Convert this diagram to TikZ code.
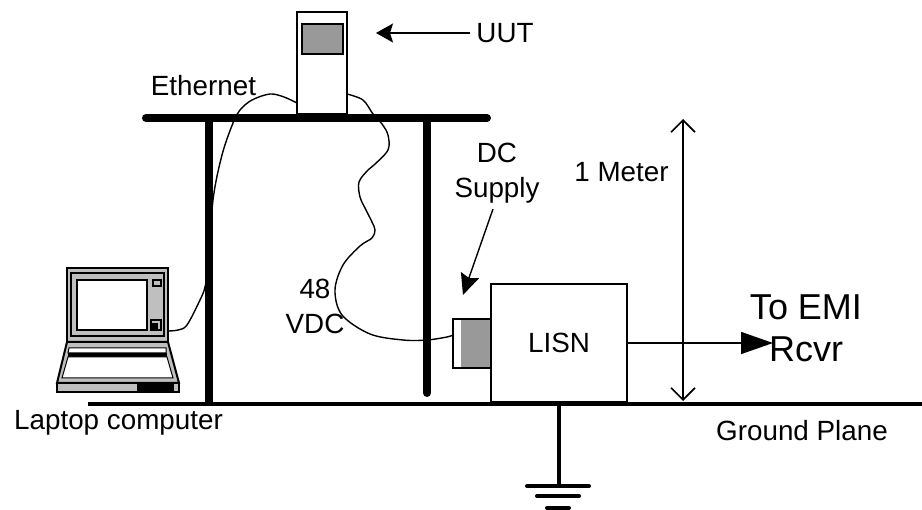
\documentclass[tikz,border=0pt]{standalone}
\usepackage{fontspec}
\setmainfont{Liberation Sans}
\usetikzlibrary{arrows.meta}
\tikzset{
  box/.style={draw,line width=1.6pt,fill=white,inner sep=0pt},
  label/.style={inner sep=0pt,align=center,font=\fontsize{27.8}{35}\selectfont},
  biglabel/.style={inner sep=0pt,align=center,font=\fontsize{36}{42}\selectfont},
  cable/.style={line width=1.4pt,line join=round},
  leg/.style={line width=8pt,line cap=round},
  earth/.style={line width=4pt,line cap=round},
  part/.style={draw,line width=2pt},
}
\definecolor{darkgrey}{gray}{.6}
\definecolor{lightgrey}{gray}{.75}
\begin{document}
\begin{tikzpicture}[x=1pt,y=-1pt]
\useasboundingbox (0,0) rectangle (922,510);
% table and ground
\coordinate (tablel) at (146,118);
\coordinate (tabler) at (487,118);
\coordinate (legl) at (209,118);
\coordinate (leglb) at (209,402);
\coordinate (legr) at (427,118);
\coordinate (legrb) at (427,393);
\coordinate (planel) at (88,404);
\coordinate (planer) at (922,404);
\coordinate (stem) at (559,404);
\coordinate (stemb) at (559,486);
\draw[leg] (tablel)--(tabler);
\draw[leg,line cap=butt] (legl)--(leglb);
\draw[leg] (legr)--(legrb);
\draw[line width=4pt] (planel)--(planer);
\draw[line width=4pt] (stem)--(stemb);
\draw[earth] (527,486)--(589,486);
\draw[earth] (537,496)--(579,496);
\draw[earth] (547,508)--(569,508);
% laptop
\draw[part,fill=lightgrey] (67,268) rectangle (168,342);
\draw[part] (71,273) rectangle (164,336);
\draw[part,fill=white] (77,280) rectangle (147,330);
\draw[part,line width=1.4pt] (153,280) rectangle (161,286);
\draw[part,line width=1.4pt] (151,320) rectangle (161,330);
\fill (152,323) rectangle (158,330);
\draw[part,fill=lightgrey] (67,342)--(168,342)--(179,383)--(57,383)--cycle;
\draw[line width=1pt,fill=white] (69,348)--(166,348)--(166,353)--(68,353)--cycle;
\fill (68,353) rectangle (167,357);
\draw[line width=1pt,fill=white] (68,357)--(167,357)--(173,378)--(62,378)--cycle;
\draw[part,fill=lightgrey] (57,383) rectangle (179,392);
\fill (137,383) rectangle (174,392);
% unit on the table
\node[box,minimum width=50pt,minimum height=102pt] (uut) at (322,63) {};
\node[draw,line width=1.5pt,fill=darkgrey,minimum width=41pt,minimum height=30pt,inner sep=0pt] (uutscreen) at (322.5,39) {};
% lisn and its plug
\node[box,minimum width=38pt,minimum height=49pt] (plug) at (472,343.5) {};
\fill[darkgrey] (461,320) rectangle (490,367);
\node[box,minimum width=136pt,minimum height=118pt] (lisn) at (559,343) {};
\node[label] at (lisn.center) {LISN};
% cables
\coordinate (lapport) at (168,331);
\coordinate (uutl) at (297,103);
\coordinate (uutr) at (347,94);
\coordinate (plugl) at (453,335);
\draw[cable] plot[smooth,tension=.55] coordinates {(lapport) (178,330) (187,325) (200,300) (205,287) (209,262) (213,200) (222,155) (233,123) (240,110) (252,100) (270,94) (284,97) (uutl)};
\draw[cable] plot[smooth,tension=.55] coordinates {(uutr) (363,100) (373,114) (382,124) (388,135) (388,150) (374,165) (368,170) (359,182) (360,197) (366,210) (372,222) (375,230) (372,238) (360,246) (343,265) (335,290) (342,315) (370,334) (403,340) (427,340) (447,337) (plugl)};
% labels
\node[label] (ethernet) at (203.5,86) {Ethernet};
\node[label] (uutname) at (505,33) {UUT};
\node[label] (dcsupply) at (497,173) {DC\\Supply};
\node[label] (volts) at (315,306) {48\\VDC};
\node[label] (meter) at (621.5,172) {1 Meter};
\node[label] (laptopname) at (118.5,423) {Laptop computer};
\node[label] (plane) at (802,431) {Ground Plane};
\node[biglabel] (emi) at (806,328) {To EMI\\Rcvr};
% arrows
\coordinate (uutarrow) at (376,33);
\coordinate (uutarrows) at (470,33);
\coordinate (dcs) at (493,209);
\coordinate (dce) at (463,295);
\coordinate (metert) at (683,119);
\coordinate (meterb) at (683,401);
\coordinate (emitip) at (773,343);
\draw[line width=1.4pt,-{Stealth[length=17pt,width=19pt,inset=3pt]}] (uutarrows)--(uutarrow);
\draw[line width=1.4pt,-{Stealth[length=21pt,width=19pt,inset=3pt]}] (dcs)--(dce);
\draw[line width=1.6pt,{Straight Barb[length=12pt,width=24pt]}-{Straight Barb[length=12pt,width=24pt]}] (metert)--(meterb);
\draw[line width=1.6pt,-{Triangle[length=32pt,width=22pt]}] (lisn.east |- emitip)--(emitip);
\end{tikzpicture}
\end{document}
